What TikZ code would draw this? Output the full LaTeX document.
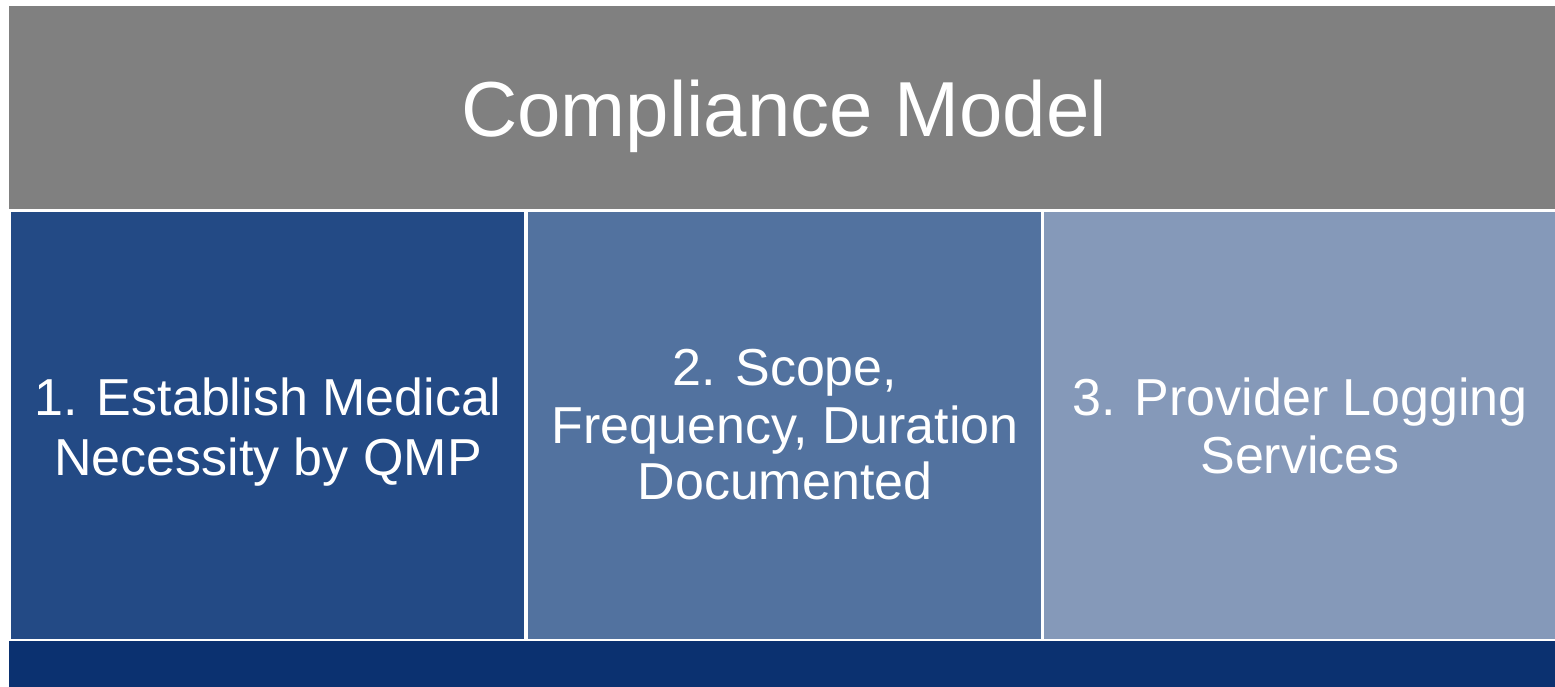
\documentclass[tikz,border=0pt]{standalone}
\usepackage{fontspec}
\setmainfont{Liberation Sans}
\definecolor{titlegray}{HTML}{808080}
\definecolor{boxone}{HTML}{234A85}
\definecolor{boxtwo}{HTML}{52729F}
\definecolor{boxthree}{HTML}{8599B9}
\definecolor{barblue}{HTML}{0B3170}
\begin{document}
\begin{tikzpicture}[x=1pt,y=-1pt,
  lbl/.style={text=white,inner sep=0pt,anchor=base,font=\fontsize{52}{58}\selectfont},
  ttl/.style={text=white,inner sep=0pt,anchor=base,font=\fontsize{78}{90}\selectfont}]
\useasboundingbox[fill=white] (0,0) rectangle (1555,687);
\fill[titlegray] (9,6) rectangle (1555,209);
\fill[boxone] (11,212) rectangle (524,639);
\fill[boxtwo] (528,212) rectangle (1041,639);
\fill[boxthree] (1044,212) rectangle (1555,639);
\fill[barblue] (9,641) rectangle (1555,687);
\node[ttl] (title) at (784,137) {Compliance Model};
\node[lbl] (a1) at (268,415) {1. Establish Medical};
\node[lbl] (a2) at (268,475) {Necessity by QMP};
\node[lbl] (b1) at (785,385) {2. Scope,};
\node[lbl] (b2) at (785,443) {Frequency, Duration};
\node[lbl] (b3) at (785,499) {Documented};
\node[lbl] (c1) at (1300,415) {3. Provider Logging};
\node[lbl] (c2) at (1300,473) {Services};
\end{tikzpicture}
\end{document}
